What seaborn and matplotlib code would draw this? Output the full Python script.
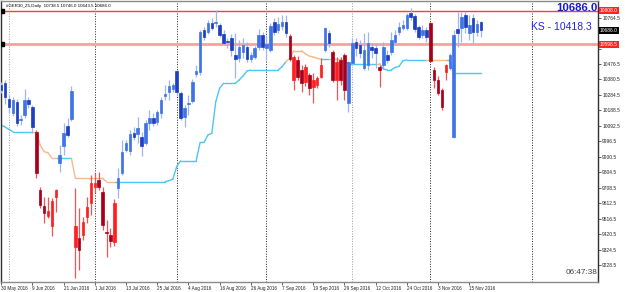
#-----------------------------------------------------------------------------------------------------------------------
# Grafico giornaliero GER30 (candele) con la linea Kijun-sen, stile MT4
#-----------------------------------------------------------------------------------------------------------------------

import matplotlib
matplotlib.use("Agg")
from matplotlib import pyplot as plt

import seaborn as sns
import pandas as pd
import numpy as np

#Etichette dell'asse delle date (una ogni 8 barre)
date_labels = ['30 May 2016', '9 Jun 2016', '21 Jun 2016', '1 Jul 2016', '13 Jul 2016', '25 Jul 2016',
               '4 Aug 2016', '16 Aug 2016', '26 Aug 2016', '7 Sep 2016', '19 Sep 2016', '29 Sep 2016',
               '12 Oct 2016', '24 Oct 2016', '3 Nov 2016', '15 Nov 2016']

opens = [10346, 10358.5, 10259, 10172.5, 10240.5, 10129, 10160, 10253, 10209.5, 10054.5,
         9694, 9594.5, 9532.5, 9470.5, 9650.5, 9862, 9967.5, 10091.5, 10135, 9340,
         9396, 9414.5, 9526.5, 9613.5, 9712.5, 9756, 9681.5, 9433.5, 9414.5, 9371,
         9706.5, 9799.5, 9942.5, 9936.5, 10048, 10042, 10023, 9986, 10110, 10141,
         10116.5, 10172.5, 10278, 10302.5, 10321.5, 10433, 10296.5, 10147.5, 10228, 10247,
         10414.5, 10427, 10687.5, 10675.5, 10731, 10731, 10718.5, 10663, 10619.5, 10638,
         10532.5, 10514, 10551, 10582, 10507.5, 10520, 10582, 10656.5, 10576, 10563.5,
         10737.5, 10687.5, 10712.5, 10737.5, 10650.5, 10377, 10501.5, 10439.5, 10365, 10408,
         10333.5, 10346, 10396, 10563.5, 10669, 10551, 10377, 10501.5, 10532.5, 10234.5,
         10483, 10613, 10594.5, 10451.5, 10470.5, 10582, 10576, 10458, 10470.5, 10532.5,
         10551, 10613, 10675.5, 10700, 10700, 10793, 10774.5, 10706, 10656.5, 10687.5,
         10731, 10439.5, 10377, 10315, 10427, 10451.5, 10023, 10694, 10700, 10781,
         10669, 10762, 10675.5, 10738.5]

highs = [10365, 10377, 10284, 10271.5, 10259, 10160, 10321.5, 10271.5, 10222, 10066.5,
         9712.5, 9650.5, 9650.5, 9644.5, 9700.5, 9973.5, 10110, 10141, 10340, 9706.5,
         9582.5, 9526.5, 9650.5, 9787, 9799.5, 9806, 9712.5, 9508, 9458, 9638,
         9830.5, 10004.5, 10004.5, 10066.5, 10085.5, 10147.5, 10054.5, 10129, 10191, 10172.5,
         10191, 10271.5, 10346, 10377, 10358.5, 10439.5, 10309, 10222, 10284, 10383.5,
         10470.5, 10687.5, 10706, 10750, 10762, 10812, 10731, 10687.5, 10638, 10663,
         10669, 10625.5, 10638, 10613, 10551, 10588.5, 10694, 10675.5, 10656.5, 10731,
         10762, 10768.5, 10781, 10781, 10663, 10532.5, 10526, 10470.5, 10476.5, 10420.5,
         10420.5, 10402, 10514, 10706, 10687.5, 10563.5, 10520, 10520, 10545, 10495,
         10638, 10638, 10625.5, 10669, 10675.5, 10607, 10607, 10470.5, 10613, 10563.5,
         10675.5, 10687.5, 10737.5, 10750, 10793, 10824, 10787, 10718.5, 10718.5, 10706,
         10737.5, 10458, 10402, 10327.5, 10476.5, 10545, 10687.5, 10799.5, 10799.5, 10799.5,
         10781, 10787, 10750, 10746.0]

lows = [10296.5, 10228, 10172.5, 10153.5, 10091.5, 10097.5, 10141, 10203.5, 10048, 9768.5,
        9582.5, 9489, 9520, 9408.5, 9557.5, 9806, 9911.5, 10023, 10122.5, 9147.5,
        9197.5, 9383.5, 9489, 9539, 9675.5, 9694, 9445.5, 9278, 9340, 9346.5,
        9644.5, 9787, 9930, 9911.5, 10004.5, 9986, 9905, 9973.5, 10066.5, 10091.5,
        10097.5, 10141, 10253, 10253, 10302.5, 10278, 10129, 10085.5, 10160, 10234.5,
        10396, 10408, 10625.5, 10663, 10687.5, 10706, 10644, 10594.5, 10576, 10526,
        10389.5, 10489, 10514, 10489, 10489, 10507.5, 10563.5, 10563.5, 10501.5, 10551,
        10656.5, 10669, 10687.5, 10644, 10495, 10315, 10377, 10302.5, 10340, 10284,
        10234.5, 10327.5, 10389.5, 10551, 10582, 10365, 10253, 10346, 10253, 10178.5,
        10470.5, 10526, 10514, 10439.5, 10439.5, 10514, 10451.5, 10333.5, 10451.5, 10483,
        10532.5, 10594.5, 10656.5, 10687.5, 10687.5, 10750, 10675.5, 10632, 10638, 10613,
        10489, 10327.5, 10284, 10191, 10377, 10439.5, 10017, 10582, 10613, 10669,
        10625.5, 10607, 10650.5, 10643.5]

closes = [10315, 10271.5, 10209.5, 10253, 10110, 10135, 10253, 10228, 10085.5, 9799.5,
          9601, 9551.5, 9563.5, 9626, 9694, 9911.5, 10048, 10035.5, 10309, 9470.5,
          9321.5, 9495.5, 9588.5, 9737.5, 9737.5, 9712.5, 9476.5, 9427, 9377.5, 9613.5,
          9768.5, 9930, 9986, 10042, 10023, 10079, 9967.5, 10110, 10141, 10110,
          10178.5, 10253, 10290.5, 10340, 10346, 10302.5, 10141, 10203.5, 10234.5, 10365,
          10433, 10675.5, 10644, 10731, 10700, 10737.5, 10656.5, 10607, 10613, 10563.5,
          10507.5, 10582, 10594.5, 10507.5, 10532.5, 10576, 10656.5, 10582, 10601, 10712.5,
          10675.5, 10725, 10737.5, 10669, 10505, 10520, 10396, 10358.5, 10458, 10327.5,
          10377, 10389.5, 10470.5, 10700, 10607, 10377, 10489, 10377, 10315, 10490,
          10607, 10576, 10545, 10563.5, 10607, 10563.5, 10545, 10439.5, 10582, 10501.5,
          10625.5, 10656.5, 10706, 10718.5, 10781, 10768.5, 10694, 10644, 10687.5, 10644,
          10495, 10377, 10296.5, 10209.5, 10470.5, 10532.5, 10656.5, 10669, 10768.5, 10706,
          10718.5, 10675.5, 10725, 10686.0]

kijun = [10097, 10085, 10070, 10056, 10056, 10056, 10056, 10056, 10056, 10056,
         9973, 9932, 9926, 9891, 9891, 9891, 9891, 9891, 9891, 9767,
         9767, 9767, 9767, 9767, 9767, 9767, 9767, 9746, 9746, 9746,
         9746, 9746, 9746, 9746, 9746, 9746, 9746, 9746, 9746, 9746,
         9746, 9746, 9746, 9752, 9762, 9840, 9876, 9876, 9876, 9876,
         9876, 9990, 9990, 10036, 10046, 10242, 10326, 10357, 10357, 10357,
         10357, 10377, 10402, 10433, 10439, 10439, 10439, 10439, 10439, 10439,
         10439, 10439, 10460, 10491, 10512, 10559, 10559, 10559, 10540, 10526,
         10520, 10512, 10506, 10506, 10506, 10506, 10506, 10506, 10490, 10478,
         10478, 10478, 10478, 10478, 10478, 10478, 10478, 10478, 10445, 10440,
         10440, 10455, 10462, 10497, 10501.5, 10501.5, 10501.5, 10501.5, 10501.5, 10501.5,
         10501.5, 10501.5, 10501.5, 10501.5, 10501.5, 10501.5, 10418.3, 10418.3, 10418.3, 10418.3,
         10418.3, 10418.3, 10418.3, 10418.3]

#Livelli orizzontali e testi
level_top = 10808.0
level_mid = 10598.5
price_axis = [10764.5, 10668.5, 10572.5, 10476.5, 10380.5, 10284.5, 10188.5, 10092.5, 9996.5,
              9900.5, 9804.5, 9708.5, 9612.5, 9516.5, 9420.5, 9324.5, 9228.5]
month_bars = [2, 24, 45, 68, 90, 110, 136]
month_grey = [True, False, False, False, True, False, False]

df = pd.DataFrame({'open': opens, 'high': highs, 'low': lows, 'close': closes, 'kijun': kijun})
df['bar'] = np.arange(len(df))
df['up'] = df['close'] >= df['open']
df['trend'] = np.where(df['close'] >= df['kijun'], 'sopra', 'sotto')

sns.set_style('white')
plt.rcParams['font.family'] = ['Liberation Sans', 'DejaVu Sans']

fig = plt.figure(figsize=(6.25, 2.92), dpi=100)
ax = fig.add_axes([1 / 625, 10 / 292, 597 / 625, 281 / 292])

#Separatori dei mesi
for b, grey in zip(month_bars, month_grey):
    ax.axvline(b, color='#9a9a9a' if grey else '#202020', ls=(0, (1, 1.6)), lw=0.7, zorder=0)

#Linee orizzontali
ax.axhline(level_top, color='#ff3b3b', lw=1.0, zorder=1)
ax.axhline(level_mid, color='#ff9e9e', lw=2.0, zorder=1)
ax.plot([0.25, 0.25], [level_top, level_mid], ls='none', marker='s', ms=2.2, color='black', zorder=5)

#Kijun-sen colorata a tratti
segs = []
for i in range(1, len(df)):
    for j in (i - 1, i):
        segs.append({'seg': i, 'bar': j, 'kijun': df['kijun'][j], 'trend': df['trend'][i]})
seg_df = pd.DataFrame(segs)
sns.lineplot(data=seg_df, x='bar', y='kijun', units='seg', estimator=None, hue='trend',
             palette={'sopra': '#4ec6f3', 'sotto': '#f6b98c'}, lw=1.0, legend=False, ax=ax, zorder=2)

#Candele
body_col = np.where(df['trend'] == 'sopra',
                    np.where(df['up'], '#3f74e6', '#1e3fc0'),
                    np.where(df['up'], '#ff1f1f', '#a8001a'))
wick_col = np.where(df['trend'] == 'sopra', '#9db6f0', '#ee5555')
ax.vlines(df['bar'], df['low'], df['high'], colors=wick_col, lw=0.9, zorder=3)
bottom = np.minimum(df['open'], df['close'])
height = np.abs(df['close'] - df['open'])
ax.bar(df['bar'], height, bottom=bottom, width=0.65, color=body_col, edgecolor=body_col, lw=0.5, zorder=4)

ax.set_xlim(-0.05, 153.0)
ax.set_ylim(9122.8, 10867.8)
ax.set_xlabel('')
ax.set_ylabel('')

#Asse dei prezzi a destra (le etichette coperte dai riquadri restano vuote)
box_levels = [(level_top, '#ff2424'), (closes[-1], '#000000'), (level_mid, '#ff2424')]
covered = [p for p in price_axis if min(abs(p - v) for v, c in box_levels) < 30]
ax.yaxis.tick_right()
ax.set_yticks(price_axis)
ax.set_yticklabels(['' if p in covered else f'{p:.1f}' for p in price_axis])
ax.tick_params(axis='y', labelsize=3.5, length=2, width=0.5, pad=1, colors='#202020', direction='out', right=True)

#Asse delle date
ax.set_xticks(np.arange(0, 8 * len(date_labels), 8))
ax.set_xticklabels(date_labels)
ax.tick_params(axis='x', labelsize=3.3, length=2, width=0.5, pad=1, colors='#202020', direction='out', bottom=True)
for lbl in ax.get_xticklabels():
    lbl.set_ha('left')

for side in ['left', 'right']:
    ax.spines[side].set_color('#303030')
for side in ['top', 'bottom']:
    ax.spines[side].set_color('#8a8a8a')
for s in ax.spines.values():
    s.set_linewidth(1.0)

#Etichette dei livelli sull'asse
yt = ax.get_yaxis_transform()
for val, col in box_levels:
    ax.text(1.003, val, f'{val:.1f}', transform=yt, fontsize=3.5, color='white', ha='left', va='center',
            bbox=dict(facecolor=col, edgecolor='none', pad=0.8), clip_on=False, zorder=10)

#Testi
ax.text(0.008, 0.988, '#GER30_Z5,Daily  %.1f %.1f %.1f %.1f' % (opens[-1], highs[-1], lows[-1], closes[-1]),
        transform=ax.transAxes, fontsize=3.2, color='black', ha='left', va='top')
ax.text(0.999, 0.975, f'{closes[-1]:.1f}', transform=ax.transAxes, fontsize=8.2, fontweight='bold',
        color='#1a1acd', ha='right', va='center')
ax.text(0.989, 0.906, f'KS - {kijun[-1]:.1f}', transform=ax.transAxes, fontsize=7.5,
        color='#2323e6', ha='right', va='center')
ax.text(0.999, 0.022, '06:47:38', transform=ax.transAxes, fontsize=5.9, color='#404040', ha='right', va='bottom')

plt.savefig('out.png', dpi=100)
